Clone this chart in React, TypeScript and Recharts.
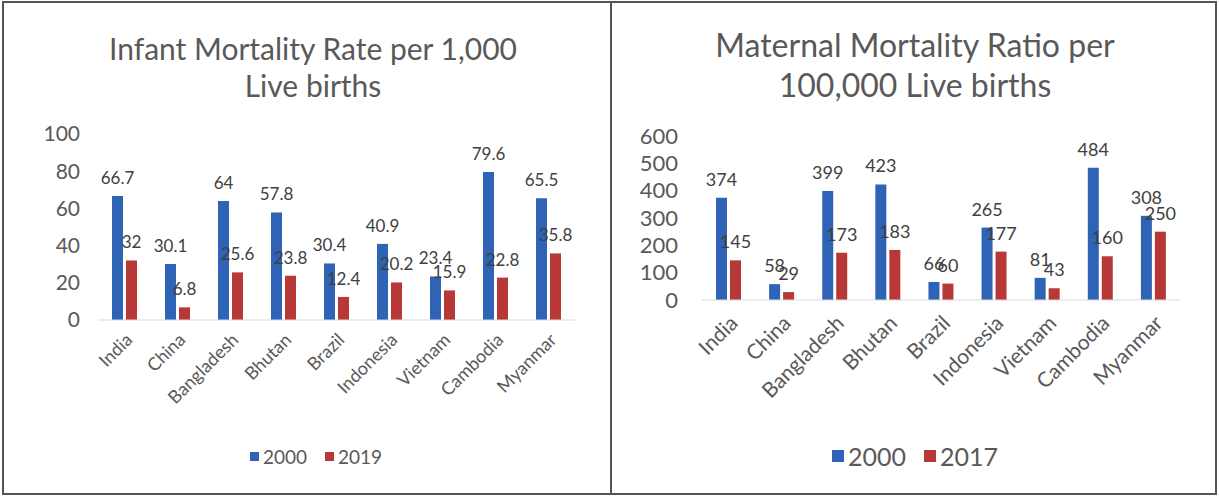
import React from 'react';
import { BarChart, Bar, XAxis, YAxis, LabelList } from 'recharts';

const countries = ['India', 'China', 'Bangladesh', 'Bhutan', 'Brazil', 'Indonesia', 'Vietnam', 'Cambodia', 'Myanmar'];

// Infant mortality per 1,000 live births
const infant2000 = [66.7, 30.1, 64, 57.8, 30.4, 40.9, 23.4, 79.6, 65.5];
const infant2019 = [32, 6.8, 25.6, 23.8, 12.4, 20.2, 15.9, 22.8, 35.8];
const infantTicks = [0, 20, 40, 60, 80, 100];

// Maternal mortality per 100,000 live births
const maternal2000 = [374, 58, 399, 423, 66, 265, 81, 484, 308];
const maternal2017 = [145, 29, 173, 183, 60, 177, 43, 160, 250];
const maternalTicks = [0, 100, 200, 300, 400, 500, 600];

const BLUE = '#2f63b6';
const RED = '#b83838';
const TEXT = '#595959';
const FONT = 'Lato, "Open Sans", sans-serif';

const infantData = countries.map((c, i) => ({ name: c, a: infant2000[i], b: infant2019[i] }));
const maternalData = countries.map((c, i) => ({ name: c, a: maternal2000[i], b: maternal2017[i] }));

const Legend2 = ({ left, top, width, labels, size, box }: any) => (
  <div style={{ position: 'absolute', left, top, width, display: 'flex', justifyContent: 'center', alignItems: 'center', gap: 18, fontFamily: FONT, fontSize: size, color: TEXT }}>
    {labels.map((l: string, i: number) => (
      <div key={l} style={{ display: 'flex', alignItems: 'center', gap: 4 }}>
        <span style={{ width: box, height: box, background: i === 0 ? BLUE : RED, display: 'inline-block' }} />
        <span>{l}</span>
      </div>
    ))}
  </div>
);

export default function App() {
  return (
    <div style={{ position: 'absolute', left: 0, top: 0, width: 1219, height: 496, background: '#fff', fontFamily: FONT }}>
      {/* frame */}
      <div style={{ position: 'absolute', left: 2, top: 1, width: 1211, height: 490, border: '2px solid #555' }} />
      <div style={{ position: 'absolute', left: 610, top: 1, width: 2, height: 494, background: '#555' }} />

      {/* left panel */}
      <div style={{ position: 'absolute', left: 0, top: 30, width: 626, textAlign: 'center', fontSize: 30, lineHeight: '37px', color: TEXT }}>
        Infant Mortality Rate per 1,000<br />Live births
      </div>
      <div style={{ position: 'absolute', left: 0, top: 0 }}>
        <BarChart width={611} height={496} data={infantData} margin={{ top: 134, right: 36, left: 58, bottom: 76 }} barSize={11} barGap={3}>
          <XAxis dataKey="name" height={100} interval={0} angle={-45} textAnchor="end" tickLine={false} axisLine={{ stroke: '#d9d9d9' }} tick={{ fontSize: 18, fill: TEXT, fontFamily: FONT }} tickMargin={6} />
          <YAxis width={40} domain={[0, 100]} ticks={infantTicks} interval={0} axisLine={false} tickLine={false} tickSize={0} tickMargin={18} tick={{ fontSize: 21, fill: TEXT, fontFamily: FONT }} />
          <Bar dataKey="a" fill={BLUE} isAnimationActive={false}>
            <LabelList dataKey="a" position="top" offset={12} style={{ fontSize: 17, fill: '#404040', fontFamily: FONT }} />
          </Bar>
          <Bar dataKey="b" fill={RED} isAnimationActive={false}>
            <LabelList dataKey="b" position="top" offset={12} style={{ fontSize: 17, fill: '#404040', fontFamily: FONT }} />
          </Bar>
        </BarChart>
      </div>
      <Legend2 left={0} top={445} width={632} labels={['2000', '2019']} size={19} box={9} />

      {/* right panel */}
      <div style={{ position: 'absolute', left: 611, top: 25, width: 608, textAlign: 'center', fontSize: 32, lineHeight: '40px', color: TEXT }}>
        Maternal Mortality Ratio per<br />100,000 Live births
      </div>
      <div style={{ position: 'absolute', left: 611, top: 0 }}>
        <BarChart width={605} height={496} data={maternalData} margin={{ top: 136, right: 36, left: 41, bottom: 96 }} barSize={11} barGap={3}>
          <XAxis dataKey="name" height={100} interval={0} angle={-45} textAnchor="end" tickLine={false} axisLine={{ stroke: '#d9d9d9' }} tick={{ fontSize: 21, fill: TEXT, fontFamily: FONT }} tickMargin={8} />
          <YAxis width={50} domain={[0, 600]} ticks={maternalTicks} interval={0} axisLine={false} tickLine={false} tickSize={0} tickMargin={24} tick={{ fontSize: 22, fill: TEXT, fontFamily: FONT }} />
          <Bar dataKey="a" fill={BLUE} isAnimationActive={false}>
            <LabelList dataKey="a" position="top" offset={12} style={{ fontSize: 18, fill: '#404040', fontFamily: FONT }} />
          </Bar>
          <Bar dataKey="b" fill={RED} isAnimationActive={false}>
            <LabelList dataKey="b" position="top" offset={12} style={{ fontSize: 18, fill: '#404040', fontFamily: FONT }} />
          </Bar>
        </BarChart>
      </div>
      <Legend2 left={611} top={441} width={608} labels={['2000', '2017']} size={25} box={12} />
    </div>
  );
}
